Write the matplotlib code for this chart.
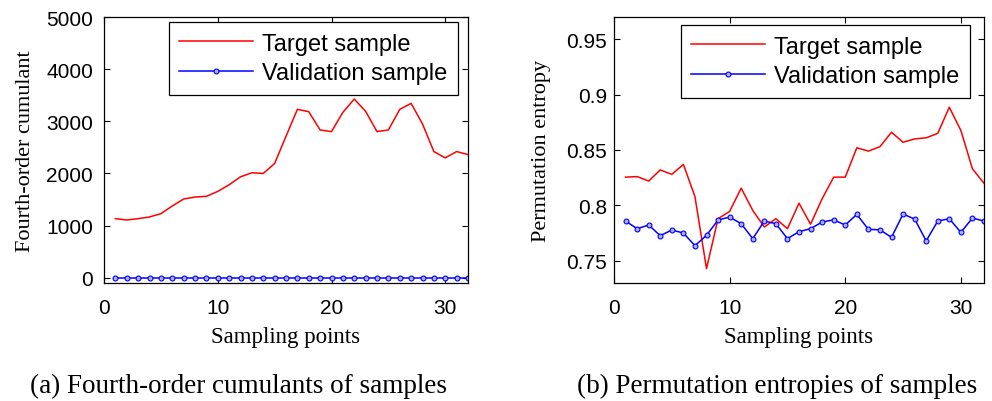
import numpy as np
import matplotlib.pyplot as plt

# sampling points 1..32
n = np.arange(1, 33)

# (a) fourth-order cumulants
cum_target = [1134, 1108, 1134, 1166, 1229, 1376, 1510, 1548, 1561, 1656,
              1783, 1936, 2013, 2000, 2191, 2713, 3229, 3185, 2834, 2803,
              3172, 3427, 3191, 2803, 2834, 3229, 3344, 2949, 2420, 2299,
              2420, 2363]
cum_valid = [0] * 32

# (b) permutation entropies
pe_target = [0.8255, 0.826, 0.822, 0.832, 0.828, 0.837, 0.808, 0.743, 0.788, 0.7946,
             0.8156, 0.7955, 0.7805, 0.788, 0.779, 0.802, 0.783, 0.806, 0.8255, 0.8255,
             0.852, 0.849, 0.853, 0.866, 0.857, 0.86, 0.861, 0.865, 0.8886, 0.8676,
             0.833, 0.820]
pe_valid = [0.7859, 0.779, 0.7823, 0.7727, 0.7778, 0.7751, 0.7637, 0.773, 0.7868, 0.7895,
            0.7835, 0.770, 0.7859, 0.7835, 0.770, 0.7763, 0.779, 0.785, 0.787, 0.7823,
            0.7919, 0.7784, 0.778, 0.7712, 0.7922, 0.7877, 0.768, 0.7859, 0.788, 0.7757,
            0.7886, 0.7859]

tickfont = 'Liberation Sans'
labfont = 'Liberation Serif'

fig = plt.figure(figsize=(9.92, 4.02), dpi=100)
W, H = 992, 402
ax1 = fig.add_axes([104/W, 1-284/H, 364/W, 266/H])
ax2 = fig.add_axes([614/W, 1-284/H, 370/W, 266/H])

def style(ax, ypad):
    ax.tick_params(direction='in', top=True, right=True, length=4, width=0.8,
                   labelsize=15)
    ax.tick_params(axis='x', pad=11)
    ax.tick_params(axis='y', pad=ypad)
    for lab in ax.get_xticklabels() + ax.get_yticklabels():
        lab.set_fontfamily(tickfont)
    for s in ax.spines.values():
        s.set_linewidth(0.9)
    ax.set_xlabel('Sampling points', fontfamily=labfont, fontsize=16.5, labelpad=6)

def add_legend(ax, anchor):
    leg = ax.legend(loc='upper right', bbox_to_anchor=anchor,
                    prop={'family': tickfont, 'size': 17}, fancybox=False,
                    edgecolor='black', framealpha=1, borderpad=0.45,
                    labelspacing=0.33, handlelength=3.1, handletextpad=0.4,
                    borderaxespad=0)
    leg.get_frame().set_linewidth(0.9)

ax1.plot(n, cum_target, 'r-', lw=1.1, label='Target sample')
ax1.plot(n, cum_valid, 'b-o', lw=1.1, ms=3.5, mfc='#b0b0ff', mew=0.8, label='Validation sample')
ax1.set_xlim(0, 32)
ax1.set_ylim(-100, 5000)
ax1.set_xticks([0, 10, 20, 30])
ax1.set_yticks([0, 1000, 2000, 3000, 4000, 5000])
ax1.set_ylabel('Fourth-order cumulant', fontfamily=labfont, fontsize=16, labelpad=8)
style(ax1, 8)
add_legend(ax1, (354/364, 1-5/266))

ax2.plot(n, pe_target, 'r-', lw=1.1, label='Target sample')
ax2.plot(n, pe_valid, 'b-o', lw=1.1, ms=3.5, mfc='#b0b0ff', mew=0.8, label='Validation sample')
ax2.set_xlim(0, 32)
ax2.set_ylim(0.73, 0.97)
ax2.set_xticks([0, 10, 20, 30])
ax2.set_yticks([0.75, 0.8, 0.85, 0.9, 0.95])
ax2.set_yticklabels(['0.75', '0.8', '0.85', '0.9', '0.95'])
ax2.set_ylabel('Permutation entropy', fontfamily=labfont, fontsize=16, labelpad=11)
style(ax2, 5)
add_legend(ax2, (356/370, 1-8/266))

fig.text(238/W, 1-386/H, '(a) Fourth-order cumulants of samples', ha='center', va='center',
         fontfamily=labfont, fontsize=19.5)
fig.text(777/W, 1-386/H, '(b) Permutation entropies of samples', ha='center', va='center',
         fontfamily=labfont, fontsize=19.5)

fig.savefig('out.png', dpi=100)
